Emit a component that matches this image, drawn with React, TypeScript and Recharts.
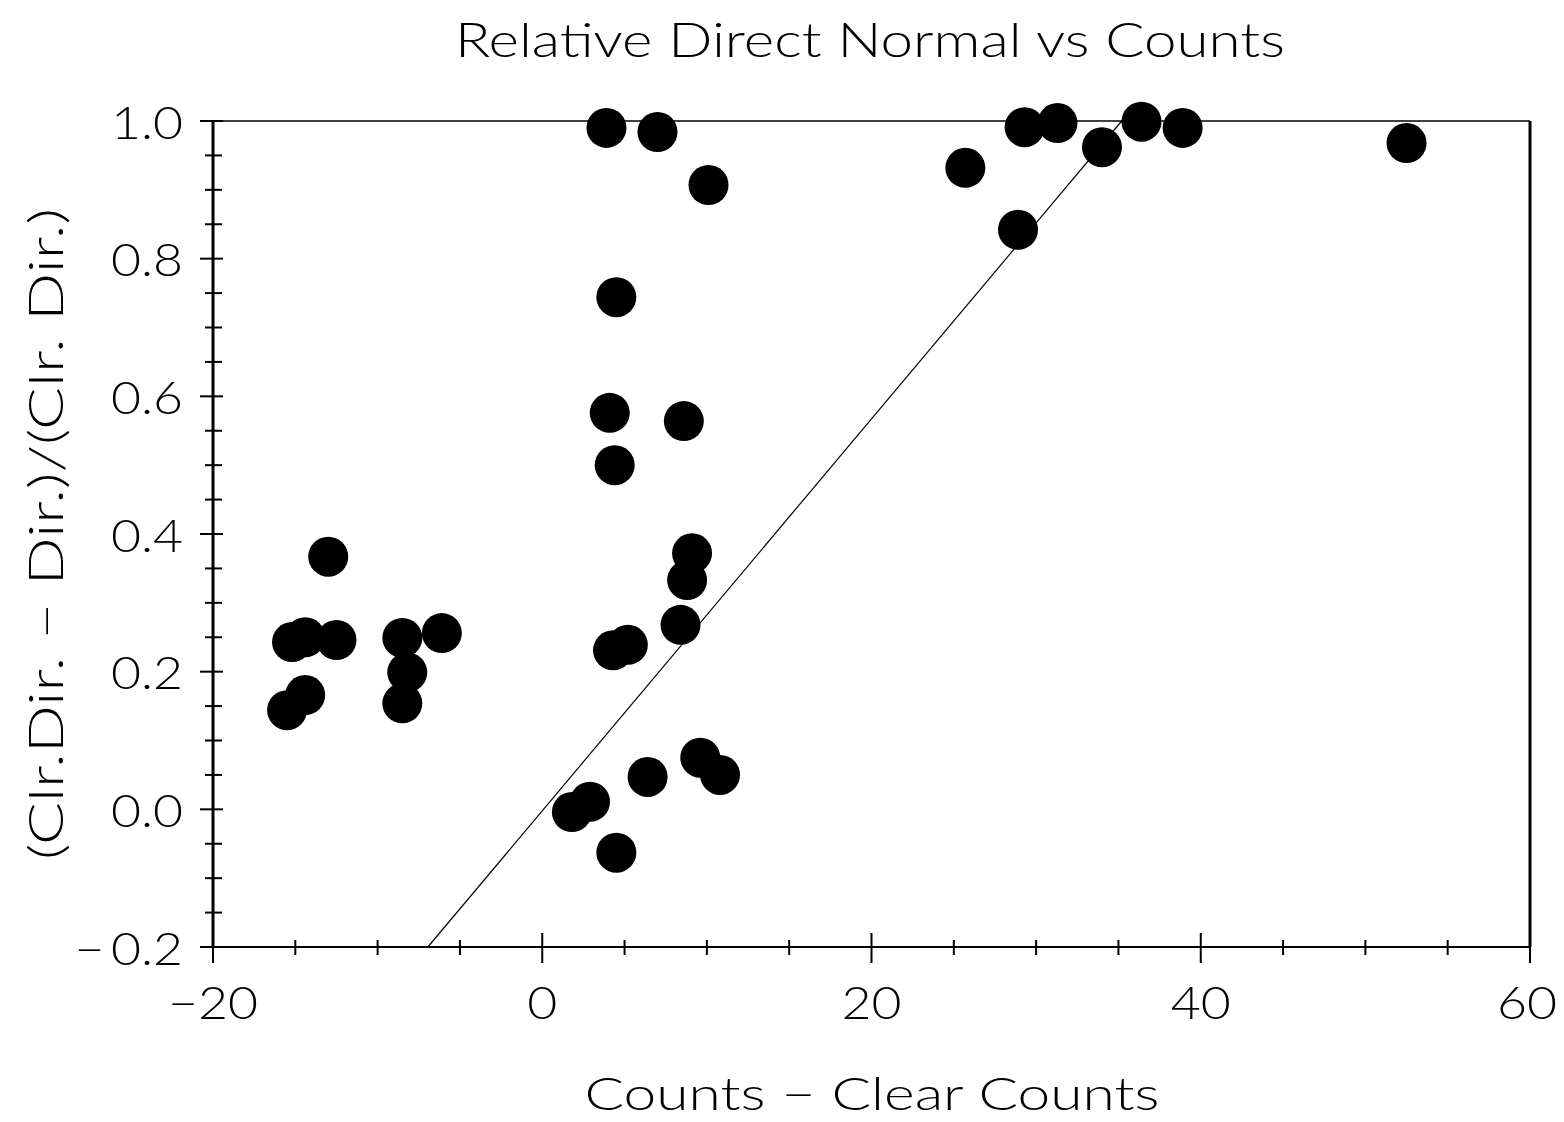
import React from 'react';
import { ScatterChart, Scatter, XAxis, YAxis, ReferenceLine } from 'recharts';

// counts minus clear counts
const countsDiff = [
  -13.0, -15.2, -14.4, -12.5, -15.5, -14.4, -8.5, -6.1, -8.2, -8.5,
  4.3, 5.2, 8.4, 8.8, 9.1, 1.8, 2.9, 6.4, 9.6, 10.8, 4.5,
  3.9, 7.0, 10.1, 4.5, 4.1, 8.6, 4.4,
  25.7, 29.3, 31.3, 34.0, 36.4, 38.9, 28.9, 52.5,
];

// (Clr.Dir. - Dir.)/(Clr. Dir.)
const relDirect = [
  0.367, 0.243, 0.25, 0.246, 0.144, 0.166, 0.249, 0.256, 0.199, 0.154,
  0.231, 0.239, 0.268, 0.333, 0.372, -0.004, 0.011, 0.047, 0.075, 0.05, -0.063,
  0.99, 0.984, 0.907, 0.744, 0.576, 0.564, 0.5,
  0.932, 0.991, 0.997, 0.962, 0.999, 0.99, 0.842, 0.968,
];

// fitted line end points
const fitX = [-6.95, 35.2];
const fitY = [-0.2, 1.0];

const xTicks = [-20, -15, -10, -5, 0, 5, 10, 15, 20, 25, 30, 35, 40, 45, 50, 55, 60];
const yTicks = [
  -0.2, -0.15, -0.1, -0.05, 0, 0.05, 0.1, 0.15, 0.2, 0.25, 0.3, 0.35, 0.4,
  0.45, 0.5, 0.55, 0.6, 0.65, 0.7, 0.75, 0.8, 0.85, 0.9, 0.95, 1.0,
];

const points = countsDiff.map((x, i) => ({ x, y: relDirect[i] }));
const segment = fitX.map((x, i) => ({ x, y: fitY[i] }));

// page-sized chart, placed at the page's top-left corner
const W = 1564;
const H = 1122;
const LEFT = 213;
const RIGHT = 1530;
const TOP = 121;
const BOTTOM = 947;
const FONT = 'Lato, "DejaVu Sans", sans-serif';
const TICK_FS = 45;
const TICK_SX = 1.15;

const XTick = (props: any) => {
  const { x, payload } = props;
  const v = payload.value;
  const major = v % 20 === 0;
  const ty = BOTTOM + 54;
  const tx = v === 60 ? x - 3 : x;
  return (
    <g>
      <line x1={x} x2={x} y1={major ? BOTTOM - 14 : BOTTOM - 7} y2={major ? BOTTOM + 16 : BOTTOM + 8} stroke="#000" strokeWidth={2} />
      {major && (
        <text
          x={tx}
          y={ty}
          transform={`translate(${tx} ${ty}) scale(${TICK_SX} 1) translate(${-tx} ${-ty})`}
          textAnchor="middle"
          dominantBaseline="central"
          fontSize={TICK_FS}
          fontFamily={FONT}
          fontWeight={300}
          fill="#000"
        >
          {v < 0 ? '\u2212' + Math.abs(v) : v}
        </text>
      )}
    </g>
  );
};

const YTick = (props: any) => {
  const { y, payload } = props;
  const v = payload.value;
  const major = Math.abs(v * 5 - Math.round(v * 5)) < 1e-6;
  const label = v < 0 ? '\u2212\u2009' + Math.abs(v).toFixed(1) : v.toFixed(1);
  const tx = LEFT - 30;
  return (
    <g>
      <line x1={major ? LEFT - 13 : LEFT - 8} x2={major ? LEFT + 10 : LEFT + 9} y1={y} y2={y} stroke="#000" strokeWidth={2} />
      {major && (
        <text
          x={tx}
          y={y}
          transform={`translate(${tx} ${y}) scale(${TICK_SX} 1) translate(${-tx} ${-y})`}
          textAnchor="end"
          dominantBaseline="central"
          fontSize={TICK_FS}
          fontFamily={FONT}
          fontWeight={300}
          fill="#000"
        >
          {label}
        </text>
      )}
    </g>
  );
};

const Dot = (props: any) => <circle cx={props.cx} cy={props.cy} r={20} fill="#000" />;

export default function App() {
  return (
    <div style={{ position: 'absolute', left: 0, top: 0, width: W, height: H, background: '#fff', overflow: 'hidden' }}>
      <ScatterChart
        width={W}
        height={H}
        margin={{ top: TOP, right: W - RIGHT, left: LEFT - 100, bottom: H - BOTTOM - 100 }}
      >
        <XAxis
          type="number"
          dataKey="x"
          domain={[-20, 60]}
          ticks={xTicks}
          interval={0}
          height={100}
          tickSize={0}
          tickMargin={0}
          tickLine={false}
          tick={<XTick />}
          axisLine={{ stroke: '#000', strokeWidth: 2 }}
        />
        <YAxis
          type="number"
          dataKey="y"
          domain={[-0.2, 1.0]}
          ticks={yTicks}
          interval={0}
          width={100}
          tickSize={0}
          tickMargin={0}
          tickLine={false}
          tick={<YTick />}
          axisLine={{ stroke: '#000', strokeWidth: 3 }}
        />
        <ReferenceLine y={1.0} stroke="#000" strokeWidth={1.5} />
        <ReferenceLine x={60} stroke="#000" strokeWidth={3} />
        <ReferenceLine segment={segment} stroke="#000" strokeWidth={1.2} />
        <Scatter data={points} fill="#000" shape={<Dot />} isAnimationActive={false} />
      </ScatterChart>
      <svg width={W} height={H} style={{ position: 'absolute', left: 0, top: 0, pointerEvents: 'none' }}>
        <text x={870} y={38} textAnchor="middle" dominantBaseline="central" fontSize={48} fontFamily={FONT} fontWeight={300} textLength={830} lengthAdjust="spacingAndGlyphs">
          Relative Direct Normal vs Counts
        </text>
        <text x={872} y={1092} textAnchor="middle" dominantBaseline="central" fontSize={46} fontFamily={FONT} fontWeight={300} textLength={575} lengthAdjust="spacingAndGlyphs">
          Counts {'\u2212'} Clear Counts
        </text>
        <text
          x={44}
          y={534}
          transform="rotate(-90 44 534)"
          textAnchor="middle"
          dominantBaseline="central"
          fontSize={48}
          fontFamily={FONT}
          fontWeight={300}
          textLength={652}
          lengthAdjust="spacingAndGlyphs"
        >
          (Clr.Dir. {'\u2212'} Dir.)/(Clr. Dir.)
        </text>
      </svg>
    </div>
  );
}
